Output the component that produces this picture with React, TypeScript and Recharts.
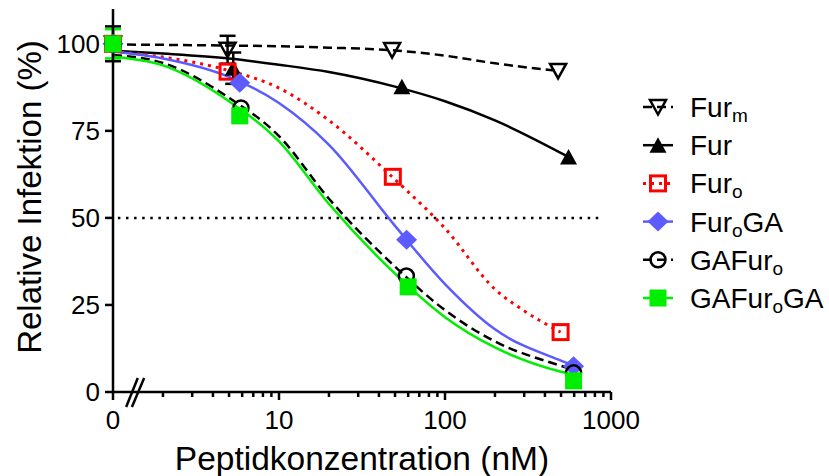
import React from 'react';
import { ComposedChart, Line, Scatter, XAxis, YAxis, ReferenceLine, ErrorBar } from 'recharts';

const FONT = '"Liberation Sans", Arial, Helvetica, sans-serif';

const CHART_W = 829;
const CHART_H = 476;
const MARGIN = { top: 9, right: 218, bottom: 0, left: 0 };
const Y_AXIS_W = 113;
const X_AXIS_H = 84;

// x axis: the value 1 stands for concentration 0 (axis break)
const X_DOMAIN = [1, 1000];
const X_MAJOR_TICKS = [1, 10, 100, 1000];
const X_MINOR_TICKS = [2, 3, 4, 5, 6, 7, 8, 9, 20, 30, 40, 50, 60, 70, 80, 90, 200, 300, 400, 500, 600, 700, 800, 900];
const X_TICK_LABELS: Record<number, string> = { 1: '0', 10: '10', 100: '100', 1000: '1000' };
const Y_TICKS = [0, 25, 50, 75, 100];

const FURM_X = [1, 4.9, 48, 480];
const FURM_Y = [100, 98.3, 98.2, 92.2];
const FURM_ERR = [5, 4, undefined, undefined];

const FUR_X = [1, 5.3, 55, 555];
const FUR_Y = [100, 93, 87.7, 67.5];
const FUR_ERR = [undefined, 4.5, undefined, undefined];

const FURO_X = [1, 4.9, 48.5, 497];
const FURO_Y = [100, 92, 61.8, 17.2];

const FUROGA_X = [1, 5.8, 58.7, 595];
const FUROGA_Y = [100, 88.8, 43.7, 7.4];

const GAFURO_X = [1, 5.9, 58.5, 595];
const GAFURO_Y = [100, 81.6, 33.3, 5.5];

const GAFUROGA_X = [1, 5.8, 60, 595];
const GAFUROGA_Y = [100, 79.3, 30.2, 3.2];
const GAFUROGA_ERR = [4.2, undefined, undefined, undefined];

// fitted curves
const FURM_CURVE_X = [1, 2, 5, 10, 20, 50, 100, 200, 480];
const FURM_CURVE_Y = [99.8, 99.7, 99.5, 99.3, 98.9, 98.1, 96.6, 94.4, 92.2];

const FUR_CURVE_X = [1, 2, 5, 10, 20, 50, 100, 200, 555];
const FUR_CURVE_Y = [98, 97.2, 95.8, 94, 91.9, 87.7, 83.5, 78, 67.5];

const FURO_CURVE_X = [1, 2, 5, 10, 20, 50, 100, 200, 300, 497];
const FURO_CURVE_Y = [97.8, 96.2, 92.3, 87.3, 78, 61, 47, 29.5, 23.3, 17.2];

const FUROGA_CURVE_X = [1, 2, 5, 10, 20, 50, 100, 200, 500, 595];
const FUROGA_CURVE_Y = [97.8, 95.8, 90.5, 83, 71, 47.7, 31, 18, 9, 7.6];

const GAFURO_CURVE_X = [1, 2, 5, 10, 20, 50, 100, 200, 500, 595];
const GAFURO_CURVE_Y = [96.8, 94.5, 84.5, 73.5, 55.5, 36, 23.5, 14.5, 7.5, 6.3];

const GAFUROGA_CURVE_X = [1, 2, 5, 10, 20, 50, 100, 200, 500, 595];
const GAFUROGA_CURVE_Y = [96.3, 93.8, 83.5, 72, 54, 34, 21.5, 12.8, 5.8, 4.9];

const zip = (xs: number[], ys: number[], errs?: (number | undefined)[]) =>
  xs.map((x, i) => ({ x, y: ys[i], err: errs ? errs[i] : undefined }));

type Kind = 'triDown' | 'triUp' | 'squareOpen' | 'diamond' | 'circleOpen' | 'square';

const SERIES = [
  { name: [['Fur'], ['m', true]], color: '#000', dash: '9 5', width: 2.5, kind: 'triDown' as Kind, points: zip(FURM_X, FURM_Y, FURM_ERR), curve: zip(FURM_CURVE_X, FURM_CURVE_Y) },
  { name: [['Fur']], color: '#000', dash: undefined, width: 2.5, kind: 'triUp' as Kind, points: zip(FUR_X, FUR_Y, FUR_ERR), curve: zip(FUR_CURVE_X, FUR_CURVE_Y) },
  { name: [['Fur'], ['o', true]], color: '#ff0000', dash: '3 5', width: 3, kind: 'squareOpen' as Kind, points: zip(FURO_X, FURO_Y), curve: zip(FURO_CURVE_X, FURO_CURVE_Y) },
  { name: [['Fur'], ['o', true], ['GA']], color: '#5b5bff', dash: undefined, width: 2.5, kind: 'diamond' as Kind, points: zip(FUROGA_X, FUROGA_Y), curve: zip(FUROGA_CURVE_X, FUROGA_CURVE_Y) },
  { name: [['GAFur'], ['o', true]], color: '#000', dash: '9 5', width: 2.5, kind: 'circleOpen' as Kind, points: zip(GAFURO_X, GAFURO_Y), curve: zip(GAFURO_CURVE_X, GAFURO_CURVE_Y) },
  { name: [['GAFur'], ['o', true], ['GA']], color: '#00ee00', dash: undefined, width: 2.5, kind: 'square' as Kind, points: zip(GAFUROGA_X, GAFUROGA_Y, GAFUROGA_ERR), curve: zip(GAFUROGA_CURVE_X, GAFUROGA_CURVE_Y) },
];

// break marks on the x axis (concentration, percent)
const BREAK_MARKS = [
  [{ x: 1.2, y: -4.3 }, { x: 1.41, y: 4 }],
  [{ x: 1.3, y: -4.3 }, { x: 1.54, y: 4 }],
];
const HALF_LINE = [{ x: 1.07, y: 50 }, { x: 900, y: 50 }];

// geometry of the plot area, same numbers as the chart layout above
const PLOT_LEFT = MARGIN.left + Y_AXIS_W;
const PLOT_WIDTH = CHART_W - MARGIN.left - MARGIN.right - Y_AXIS_W;
const AXIS_Y = CHART_H - MARGIN.bottom - X_AXIS_H;
const logPos = (v: number) =>
  PLOT_LEFT + (PLOT_WIDTH * (Math.log10(v) - Math.log10(X_DOMAIN[0]))) / (Math.log10(X_DOMAIN[1]) - Math.log10(X_DOMAIN[0]));

const Marker = ({ kind, cx, cy, color }: { kind: Kind; cx: number; cy: number; color: string }) => {
  switch (kind) {
    case 'triDown':
      return <polygon points={`${cx - 8},${cy - 7} ${cx + 8},${cy - 7} ${cx},${cy + 7.5}`} fill="none" stroke={color} strokeWidth={2.5} />;
    case 'triUp':
      return <polygon points={`${cx - 8.5},${cy + 7.5} ${cx + 8.5},${cy + 7.5} ${cx},${cy - 8}`} fill={color} />;
    case 'squareOpen':
      return <rect x={cx - 7.5} y={cy - 7.5} width={15} height={15} fill="none" stroke={color} strokeWidth={3} />;
    case 'diamond':
      return <polygon points={`${cx},${cy - 10} ${cx + 10.5},${cy} ${cx},${cy + 10} ${cx - 10.5},${cy}`} fill={color} />;
    case 'circleOpen':
      return <circle cx={cx} cy={cy} r={7.5} fill="none" stroke={color} strokeWidth={2.5} />;
    default:
      return <rect x={cx - 8.5} y={cy - 8.5} width={17} height={17} fill={color} />;
  }
};

const XTickLabel = (props: any) => {
  const { x, y, payload } = props;
  const label = X_TICK_LABELS[payload.value];
  if (!label) return <g />;
  return (
    <text x={x} y={y + 30} textAnchor="middle" fontSize={26} fontFamily={FONT} fill="#000">
      {label}
    </text>
  );
};

const XLabel = (props: any) => {
  const vb = props.viewBox;
  return (
    <text x={vb.x + vb.width / 2} y={vb.y + 78} textAnchor="middle" fontSize={33.5} fontFamily={FONT} fill="#000">
      Peptidkonzentration (nM)
    </text>
  );
};

const YLabel = () => (
  <text x={41} y={197} transform="rotate(-90, 41, 197)" textAnchor="middle" fontSize={33} fontFamily={FONT} fill="#000">
    Relative Infektion (%)
  </text>
);

const LEGEND_TOP = 107;
const LEGEND_STEP = 38.2;

export default function App() {
  return (
    <div style={{ position: 'absolute', left: 0, top: 0, width: CHART_W, height: CHART_H, background: '#fff' }}>
      <ComposedChart width={CHART_W} height={CHART_H} margin={MARGIN}>
        <XAxis
          dataKey="x"
          type="number"
          scale="log"
          domain={X_DOMAIN}
          ticks={X_MAJOR_TICKS}
          interval={0}
          tick={(p: any) => <XTickLabel {...p} />}
          tickLine={false}
          tickSize={7}
          tickMargin={0}
          height={X_AXIS_H}
          axisLine={{ stroke: '#000', strokeWidth: 2.5 }}
          label={XLabel}
        />
        <YAxis
          type="number"
          domain={[0, 110]}
          ticks={Y_TICKS}
          width={Y_AXIS_W}
          tickSize={8}
          tickMargin={5}
          tick={{ fontSize: 26, fill: '#000', fontFamily: FONT }}
          tickLine={{ stroke: '#000', strokeWidth: 2.5 }}
          axisLine={{ stroke: '#000', strokeWidth: 2.5 }}
          label={YLabel}
        />
        <ReferenceLine segment={HALF_LINE} stroke="#000" strokeWidth={2.5} strokeDasharray="2.5 5.6" ifOverflow="visible" />
        {BREAK_MARKS.map((seg, i) => (
          <ReferenceLine key={`brk-${i}`} segment={seg} stroke="#000" strokeWidth={2.5} ifOverflow="visible" />
        ))}
        {SERIES.map((s, i) => (
          <Line
            key={`line-${i}`}
            data={s.curve}
            dataKey="y"
            type="monotone"
            stroke={s.color}
            strokeWidth={s.width}
            strokeDasharray={s.dash}
            dot={false}
            activeDot={false}
            isAnimationActive={false}
          />
        ))}
        {SERIES.map((s, i) => (
          <Scatter
            key={`pts-${i}`}
            data={s.points}
            dataKey="y"
            isAnimationActive={false}
            shape={(p: any) => <Marker kind={s.kind} cx={p.cx} cy={p.cy} color={s.color} />}
          >
            <ErrorBar dataKey="err" direction="y" width={8} stroke={s.color} strokeWidth={2.5} />
          </Scatter>
        ))}
      </ComposedChart>

      <svg width={CHART_W} height={CHART_H} style={{ position: 'absolute', left: 0, top: 0, pointerEvents: 'none' }}>
        {/* log-axis tick marks */}
        {X_MAJOR_TICKS.map((t) => (
          <line key={`maj-${t}`} x1={logPos(t)} x2={logPos(t)} y1={AXIS_Y} y2={AXIS_Y + 8} stroke="#000" strokeWidth={2.5} />
        ))}
        {X_MINOR_TICKS.map((t) => (
          <line key={`min-${t}`} x1={logPos(t)} x2={logPos(t)} y1={AXIS_Y} y2={AXIS_Y + 5} stroke="#000" strokeWidth={2.5} />
        ))}

        {SERIES.map((s, i) => {
          const cy = LEGEND_TOP + i * LEGEND_STEP;
          return (
            <g key={`leg-${i}`}>
              <line x1={643} x2={673} y1={cy} y2={cy} stroke={s.color} strokeWidth={s.width} strokeDasharray={s.dash} />
              <Marker kind={s.kind} cx={658} cy={cy} color={s.color} />
              <text x={690} y={cy + 10} fontSize={28} fontFamily={FONT} fill="#000">
                {s.name.map((part: any, j: number) => {
                  const prevSub = j > 0 && s.name[j - 1][1];
                  const dy = part[1] ? 5 : prevSub ? -5 : 0;
                  return (
                    <tspan key={j} dy={dy} fontSize={part[1] ? 19 : 28}>
                      {part[0]}
                    </tspan>
                  );
                })}
              </text>
            </g>
          );
        })}
      </svg>
    </div>
  );
}
